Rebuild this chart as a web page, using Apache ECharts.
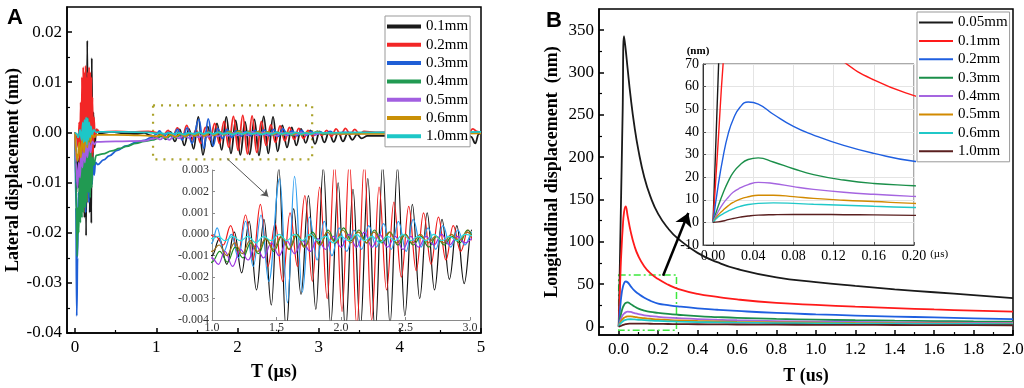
<!DOCTYPE html>
<html lang="en">
<head>
<meta charset="UTF-8">
<title>Lateral and longitudinal displacement</title>
<script src="https://cdn.jsdelivr.net/npm/echarts@6/dist/echarts.min.js"></script>
<style>
  html, body { margin: 0; padding: 0; background: #fff; }
  #chart { width: 1024px; height: 388px; }
</style>
</head>
<body>
<div id="chart"></div>
<script>
// ---- panel A: lateral displacement (nm) vs T (us), [t, value] pairs
const namesA = ['0.1mm', '0.2mm', '0.3mm', '0.4mm', '0.5mm', '0.6mm', '1.0mm'];

const lat01 = [
  [0,0],[0.01,-0.004],[0.017,-0.012],[0.03,-0.005],[0.045,-0.011],[0.06,-0.003],[0.075,-0.013],[0.085,0.002],
  [0.095,-0.015],[0.105,0.006],[0.115,-0.017],[0.125,0.01],[0.135,-0.0206],[0.15,0.0183],[0.16,-0.012],[0.17,0.009],
  [0.18,-0.016],[0.19,0.011],[0.2,-0.0181],[0.205,0.0148],[0.215,-0.008],[0.225,0.004],[0.24,-0.003],[0.26,0.0006],
  [0.3,-0.0002],[0.45,0.0001],[0.6,-0.0002],[0.75,-0.0003],[0.85,-0.0001],[0.93,-0.0006],
  [1.0,-0.001],[1.058,-0.0002],[1.115,-0.0014],[1.173,0.0001],[1.23,-0.0018],[1.288,0.0006],[1.345,-0.0026],
  [1.403,0.0007],[1.46,-0.0033],[1.518,0.0031],[1.575,-0.0045],[1.633,0.0012],[1.69,-0.0028],[1.748,0.0018],
  [1.805,-0.0035],[1.863,0.0031],[1.92,-0.0042],[1.978,0.0024],[2.035,-0.0045],[2.093,0.0021],[2.15,-0.0044],
  [2.208,0.0026],[2.265,-0.0046],[2.323,0.0032],[2.38,-0.0042],[2.438,0.0031],[2.495,-0.0038],[2.553,0.0014],
  [2.61,-0.003],[2.668,0.001],[2.725,-0.0026],[2.783,0.0007],[2.84,-0.0021],[2.898,0.0004],[2.955,-0.0023],
  [3.013,0.0002],[3.07,-0.002],[3.128,0.0001],[3.185,-0.0019],[3.243,0],[3.3,-0.0018],[3.358,-0.0002],
  [3.415,-0.0015],[3.473,-0.0004],[3.53,-0.0012],[3.6,-0.0007],[3.8,-0.0007],[4.3,-0.0006],[4.84,-0.0005],
  [4.88,-0.0009],[4.93,-0.0022],[4.97,-0.0004],[5.0,0.0001]
];
const lat02 = [
  [0,0],[0.02,-0.001],[0.04,-0.003],[0.05,0.002],[0.06,-0.006],[0.068,0.006],[0.076,-0.01],[0.084,0.011],
  [0.092,-0.012],[0.1,0.013],[0.108,-0.016],[0.115,0.012],[0.122,-0.015],[0.13,0.0133],[0.137,-0.013],[0.144,0.011],
  [0.151,-0.014],[0.158,0.012],[0.165,-0.011],[0.172,0.013],[0.179,-0.012],[0.186,0.012],[0.193,-0.01],[0.2,0.011],
  [0.207,-0.007],[0.214,0.007],[0.222,-0.004],[0.232,0.003],[0.245,-0.001],[0.27,0.0006],[0.3,0.0001],[0.5,0.0002],
  [0.7,0.0001],[0.9,0.0002],
  [1.03,-0.0001],[1.088,-0.0005],[1.145,0.0004],[1.203,-0.0009],[1.26,0.0009],[1.318,-0.0012],[1.375,0.0014],
  [1.433,-0.0015],[1.49,0.0005],[1.548,-0.0022],[1.605,0.001],[1.663,-0.0015],[1.72,0.0018],[1.778,-0.0022],
  [1.835,0.0022],[1.893,-0.003],[1.95,0.0032],[2.008,-0.0036],[2.065,0.0034],[2.123,-0.0043],[2.18,0.0033],
  [2.238,-0.004],[2.295,0.0022],[2.353,-0.0026],[2.41,0.0015],[2.468,-0.002],[2.525,0.0013],[2.583,-0.0017],
  [2.64,0.001],[2.698,-0.0014],[2.755,0.0008],[2.813,-0.0012],[2.87,0.0004],[2.928,-0.0008],[2.985,0.0002],
  [3.043,-0.0006],[3.1,0.0004],[3.158,-0.0008],[3.215,0.0007],[3.273,-0.0005],[3.33,0.0008],[3.388,-0.0004],
  [3.445,0.0006],[3.503,-0.0003],[3.56,0.0002],[3.7,0],[4.2,0.0001],[4.85,0],[4.9,0.0007],[4.95,0.0002],[5.0,-0.0001]
];
const lat03 = [
  [0,0],[0.01,-0.015],[0.02,-0.0366],[0.03,-0.025],[0.04,-0.012],[0.05,-0.016],[0.06,-0.009],[0.07,-0.013],
  [0.08,-0.006],[0.09,-0.014],[0.1,-0.004],[0.11,-0.015],[0.12,-0.005],[0.13,-0.016],[0.14,-0.004],[0.15,-0.012],
  [0.16,-0.006],[0.17,-0.014],[0.18,-0.005],[0.19,-0.011],[0.2,-0.007],[0.21,-0.0103],[0.22,-0.0055],[0.235,-0.0085],
  [0.25,-0.006],[0.28,-0.0064],[0.35,-0.0055],[0.42,-0.0047],[0.52,-0.0036],[0.63,-0.0027],[0.75,-0.002],
  [0.85,-0.0016],[0.93,-0.0011],
  [1.0,-0.0004],[1.04,0.0003],[1.09,-0.0008],[1.15,0],[1.205,-0.0011],[1.26,0.0006],[1.32,-0.0015],[1.38,0.0009],
  [1.44,-0.0022],[1.525,0.0026],[1.585,-0.0032],[1.64,0.0027],[1.7,-0.0027],[1.755,0.0008],[1.815,-0.0012],
  [1.87,0.0006],[1.93,-0.001],[1.985,0.0003],[2.045,-0.0008],[2.1,0.0002],[2.16,-0.0007],[2.215,0.0004],
  [2.275,-0.0006],[2.33,0.0005],[2.39,-0.0007],[2.445,0.0006],[2.505,-0.0008],[2.56,0.0007],[2.62,-0.0006],
  [2.675,0.0003],[2.735,-0.0007],[2.79,0.0004],[2.85,-0.0006],[2.905,0.0002],[2.96,-0.0005],
  [3.02,0.0001],[3.08,-0.0004],[3.14,0.0002],[3.2,-0.0003],[3.3,0],[3.5,-0.0001],[4.2,0],[4.9,-0.0001],[5.0,0]
];
const lat04 = [
  [0,0],[0.01,-0.01],[0.025,-0.0247],[0.035,-0.015],[0.045,-0.02],[0.055,-0.008],[0.065,-0.018],[0.075,-0.005],
  [0.085,-0.017],[0.095,-0.004],[0.105,-0.016],[0.115,-0.002],[0.125,-0.015],[0.135,0.001],[0.145,-0.014],
  [0.155,0.003],[0.165,-0.012],[0.175,-0.001],[0.185,-0.013],[0.195,-0.004],[0.205,-0.011],[0.215,-0.005],
  [0.23,-0.0065],[0.26,-0.0046],[0.34,-0.0043],[0.45,-0.0037],[0.55,-0.0032],[0.63,-0.0028],[0.75,-0.0022],
  [0.85,-0.0018],[0.96,-0.0015],
  [1.0,-0.0013],[1.06,-0.0008],[1.12,-0.0013],[1.18,-0.0006],[1.24,-0.0011],[1.3,-0.0004],[1.36,-0.0009],
  [1.42,-0.0002],[1.48,-0.0008],[1.54,-0.0001],[1.6,-0.0007],[1.66,0],[1.72,-0.0006],[1.78,0.0001],[1.84,-0.0005],
  [1.9,0.0002],[1.96,-0.0004],[2.02,0.0003],[2.08,-0.0003],[2.14,0.0002],[2.2,-0.0004],[2.26,0.0002],[2.32,-0.0004],
  [2.38,0.0001],[2.44,-0.0005],[2.5,0],[2.56,-0.0005],[2.62,-0.0001],[2.68,-0.0006],[2.74,-0.0001],[2.8,-0.0005],
  [2.86,-0.0001],[2.92,-0.0004],[2.98,0.0002],
  [3.05,-0.0003],[3.15,-0.0001],[3.3,-0.0002],[3.6,-0.0001],[4.3,-0.0001],[5.0,0]
];
const lat05 = [
  [0,0],[0.01,-0.006],[0.03,-0.011],[0.045,-0.006],[0.06,-0.009],[0.075,-0.004],[0.09,-0.007],[0.105,-0.003],
  [0.12,-0.006],[0.135,-0.002],[0.15,-0.005],[0.17,-0.002],[0.19,-0.004],[0.21,-0.0018],[0.24,-0.0024],
  [0.26,-0.0019],[0.5,-0.0018],[0.86,-0.0017],[0.95,-0.0013],
  [1.0,-0.0011],[1.05,-0.0014],[1.1,-0.0008],[1.16,-0.0015],[1.22,-0.0007],[1.28,-0.0012],[1.34,-0.0005],
  [1.4,-0.0011],[1.46,-0.0004],[1.52,-0.001],[1.58,-0.0003],[1.64,-0.0009],[1.7,-0.0003],[1.76,-0.0008],
  [1.82,-0.0002],[1.88,-0.0007],[1.94,-0.0001],[2.0,-0.0006],[2.06,0],[2.12,-0.0006],[2.18,0.0001],[2.24,-0.0006],
  [2.3,0],[2.36,-0.0006],[2.42,-0.0001],[2.48,-0.0007],[2.54,-0.0001],[2.6,-0.0006],[2.66,-0.0001],[2.72,-0.0005],
  [2.78,0],[2.84,-0.0005],[2.9,-0.0001],[2.96,-0.0004],
  [3.05,-0.0001],[3.2,-0.0003],[3.5,-0.0002],[4.3,-0.0002],[5.0,-0.0001]
];
const lat06 = [
  [0,0],[0.01,-0.004],[0.03,-0.0057],[0.05,-0.002],[0.07,-0.005],[0.09,-0.001],[0.11,-0.004],[0.13,0],
  [0.15,-0.003],[0.17,0.001],[0.19,-0.002],[0.21,0],[0.23,-0.001],[0.26,-0.0005],[0.5,-0.0005],[0.8,-0.0006],
  [0.95,-0.0007],
  [1.0,-0.0008],[1.055,-0.0005],[1.115,-0.001],[1.175,-0.0004],[1.235,-0.0009],[1.295,-0.0003],[1.355,-0.0008],
  [1.415,-0.0002],[1.475,-0.0007],[1.535,-0.0001],[1.595,-0.0007],[1.655,0],[1.715,-0.0006],[1.775,0],
  [1.835,-0.0005],[1.895,0.0001],[1.955,-0.0004],[2.015,0.0002],[2.075,-0.0004],[2.135,0.0001],[2.195,-0.0004],
  [2.255,0.0001],[2.315,-0.0003],[2.375,0.0001],[2.435,-0.0004],[2.495,0],[2.555,-0.0004],[2.615,0],
  [2.675,-0.0004],[2.735,-0.0001],[2.795,-0.0004],[2.855,0],[2.915,-0.0003],[2.975,0.0001],
  [3.05,-0.0002],[3.3,-0.0003],[4.0,-0.0003],[5.0,-0.0002]
];
const lat10 = [
  [0,0],[0.02,-0.0003],[0.04,-0.001],[0.06,0.0005],[0.08,-0.0015],[0.095,0.002],[0.105,-0.002],[0.115,0.0025],
  [0.125,-0.0018],[0.135,0.003],[0.145,-0.0025],[0.155,0.0028],[0.165,-0.0015],[0.175,0.002],[0.185,-0.001],
  [0.195,0.0012],[0.21,-0.0004],[0.23,0.0005],[0.26,0],[0.3,0.0001],[0.6,0.0001],[0.9,0],
  [1.0,-0.0002],[1.05,-0.0001],[1.1,-0.0003],[1.16,-0.0001],[1.22,-0.0003],[1.28,-0.0001],[1.34,-0.0004],
  [1.4,-0.0001],[1.46,-0.0003],[1.52,0],[1.58,-0.0003],[1.64,0],[1.7,-0.0003],[1.76,0],[1.82,-0.0003],
  [1.88,-0.0001],[1.94,-0.0004],[2.0,-0.0001],[2.06,-0.0003],[2.12,0],[2.18,-0.0003],[2.24,-0.0001],[2.3,-0.0004],
  [2.36,-0.0001],[2.42,-0.0003],[2.48,0],[2.54,-0.0003],[2.6,-0.0001],[2.66,-0.0003],[2.72,0],[2.78,-0.0003],
  [2.84,-0.0001],[2.9,-0.0003],[2.96,0],
  [3.05,-0.0001],[3.5,0],[4.5,0],[5.0,0.0001]
];
const latA = [lat01, lat02, lat03, lat04, lat05, lat06, lat10];

// tick values, panel A
const ticksAx = [0, 1, 2, 3, 4, 5];
const minorAx = [0.5, 1.5, 2.5, 3.5, 4.5];
const ticksAy = [-0.04, -0.03, -0.02, -0.01, 0, 0.01, 0.02];
const minorAy = [-0.035, -0.025, -0.015, -0.005, 0.005, 0.015];

// ---- panel B: longitudinal displacement (nm) vs T (us)
const namesB = ['0.05mm', '0.1mm', '0.2mm', '0.3mm', '0.4mm', '0.5mm', '0.6mm', '1.0mm'];
const tB = [0, 0.005, 0.01, 0.015, 0.02, 0.027, 0.035, 0.045, 0.06, 0.08, 0.1, 0.13, 0.16, 0.2, 0.25, 0.3,
            0.4, 0.5, 0.6, 0.8, 1.0, 1.2, 1.4, 1.6, 1.8, 2.0];
const lon005 = [0, 63, 127, 190, 254, 343, 328, 305, 272, 236, 208, 176, 154, 133, 116, 104, 87, 76, 68, 58, 52.5, 48, 44, 40.5, 37, 33.5];
const lon01  = [0, 35, 70, 95, 115, 135, 142, 131, 113, 95, 83, 71, 63, 56, 49.5, 44.5, 38.5, 35, 32, 28, 25.5, 23.5, 21.8, 20.2, 18.8, 17.5];
const lon02  = [0, 16, 29, 39, 45.5, 51, 53.2, 52.3, 47.8, 42.4, 38.6, 34, 30.5, 27, 25.3, 23.8, 21.5, 19.8, 18.4, 16.1, 14.4, 13, 11.8, 10.7, 9.7, 8.7];
const lon03  = [0, 7, 13, 18, 22, 25.5, 27.8, 28.5, 26.7, 23.7, 21.1, 18.7, 17.2, 16.2, 14.9, 13.9, 12.3, 11.2, 10.3, 9, 8.1, 7.4, 6.9, 6.5, 6.1, 5.8];
const lon04  = [0, 4.7, 8.3, 11, 13.3, 15.2, 16.7, 17.7, 17.2, 15.8, 14.6, 13.3, 12.4, 11.5, 10.6, 9.9, 8.8, 8, 7.4, 6.5, 5.9, 5.4, 5, 4.7, 4.4, 4.2];
const lon05  = [0, 3.2, 5.4, 7.3, 8.8, 10.3, 11.3, 12, 12, 11.4, 10.6, 9.8, 9.2, 8.4, 7.8, 7.3, 6.6, 6.1, 5.6, 5, 4.6, 4.2, 3.9, 3.7, 3.5, 3.3];
const lon06  = [0, 2.4, 3.8, 5, 6, 7.1, 7.9, 8.4, 8.6, 8.4, 8, 7.6, 7.1, 6.6, 6.2, 5.8, 5.3, 4.9, 4.6, 4.1, 3.8, 3.5, 3.3, 3.1, 3, 2.8];
const lon10  = [0, 0.2, 0.6, 1.2, 1.7, 2.3, 2.8, 3.2, 3.4, 3.5, 3.5, 3.4, 3.3, 3.1, 3, 2.9, 2.7, 2.5, 2.4, 2.2, 2, 1.9, 1.8, 1.7, 1.6, 1.5];
const lonB = [lon005, lon01, lon02, lon03, lon04, lon05, lon06, lon10];

// tick values, panel B
const ticksBx = [0, 0.2, 0.4, 0.6, 0.8, 1.0, 1.2, 1.4, 1.6, 1.8, 2.0];
const minorBx = [0.1, 0.3, 0.5, 0.7, 0.9, 1.1, 1.3, 1.5, 1.7, 1.9];
const ticksBy = [0, 50, 100, 150, 200, 250, 300, 350];
const minorBy = [25, 75, 125, 175, 225, 275, 325];
const ticksInsetBx = [0, 0.04, 0.08, 0.12, 0.16, 0.2];

// ---- styles
const colorsA = ['#1a1a1a', '#f22626', '#1f5fd6', '#219a52', '#a25fe0', '#c99006', '#1dc7c7'];
const colorsAInset = ['#111111', '#f01818', '#2a9cf0', '#1f8a1f', '#9a30e0', '#a07018', '#30dede'];
const colorsB = ['#1a1a1a', '#ff1a1a', '#1f5fe0', '#1b8f4a', '#a565e0', '#d28a00', '#20c8c8', '#5a1f1f'];
const SERIF = 'Liberation Serif';

const chart = echarts.init(document.getElementById('chart'));

function fmt(d) {
  return v => (Math.abs(v) < 1e-12 ? 0 : v).toFixed(d);
}

function mainX(grid, min, max, ticks, decimals, name, gap) {
  return {
    type: 'value', gridIndex: grid, position: 'bottom', min: min, max: max,
    axisLine: { onZero: false, lineStyle: { color: '#000', width: 1.5 } },
    axisTick: { inside: true, length: 5, customValues: ticks, lineStyle: { color: '#000', width: 1.5 } },
    axisLabel: { customValues: ticks, formatter: fmt(decimals), fontFamily: SERIF, fontSize: 17, color: '#000', margin: 6 },
    splitLine: { show: false },
    name: name, nameLocation: 'middle', nameGap: gap,
    nameTextStyle: { fontFamily: SERIF, fontWeight: 'bold', fontSize: 18, color: '#000' }
  };
}
function mainY(grid, min, max, ticks, decimals, name, gap) {
  return {
    type: 'value', gridIndex: grid, position: 'left', min: min, max: max,
    axisLine: { onZero: false, lineStyle: { color: '#000', width: 1.5 } },
    axisTick: { inside: true, length: 5, customValues: ticks, lineStyle: { color: '#000', width: 1.5 } },
    axisLabel: { customValues: ticks, formatter: fmt(decimals), fontFamily: SERIF, fontSize: 17, color: '#000', margin: 5 },
    splitLine: { show: false },
    name: name, nameLocation: 'middle', nameGap: gap, nameRotate: 90,
    nameTextStyle: { fontFamily: SERIF, fontWeight: 'bold', fontSize: 18, color: '#000' }
  };
}
function minorAxis(grid, pos, min, max, ticks) {
  return {
    type: 'value', gridIndex: grid, position: pos, min: min, max: max,
    axisLine: { show: false, onZero: false },
    axisTick: { inside: true, length: 3, customValues: ticks, lineStyle: { color: '#000', width: 1.2 } },
    axisLabel: { show: false },
    splitLine: { show: false }
  };
}

const series = [];
namesA.forEach((n, i) => {
  series.push({
    name: n, type: 'line', xAxisIndex: 0, yAxisIndex: 0, data: latA[i],
    symbol: 'none', smooth: 0.4, smoothMonotone: 'x', clip: true,
    lineStyle: { width: 1.8, color: colorsA[i] }, itemStyle: { color: colorsA[i] }
  });
});
// zoom box and arrow pointing to the inset (panel A)
series[0].markArea = {
  silent: true,
  itemStyle: { color: 'rgba(0,0,0,0)', borderColor: '#aaa22a', borderWidth: 2.2, borderType: [2, 6] },
  data: [[{ coord: [0.96, 0.0054] }, { coord: [2.92, -0.0054] }]]
};
series[0].markLine = {
  silent: true, symbol: ['none', 'arrow'], symbolSize: 7, label: { show: false },
  lineStyle: { color: '#555', width: 1, type: 'solid' },
  data: [[{ coord: [1.87, -0.0052] }, { coord: [2.38, -0.0128] }]]
};
namesA.forEach((n, i) => {
  series.push({
    name: n, type: 'line', xAxisIndex: 2, yAxisIndex: 2, data: latA[i],
    symbol: 'none', smooth: 0.4, smoothMonotone: 'x', clip: true,
    lineStyle: { width: 1.2, color: colorsAInset[i] }, itemStyle: { color: colorsAInset[i] }
  });
});

const bFirst = series.length;
namesB.forEach((n, i) => {
  const pts = tB.map((t, j) => [t, lonB[i][j]]);
  series.push({
    name: 'B ' + n, type: 'line', xAxisIndex: 3, yAxisIndex: 3, data: pts,
    symbol: 'none', smooth: 0.5, clip: true,
    lineStyle: { width: 1.8, color: colorsB[i] }, itemStyle: { color: colorsB[i] }
  });
});
series[bFirst].markArea = {
  silent: true,
  itemStyle: { color: 'rgba(0,0,0,0)', borderColor: '#3ee83e', borderWidth: 1.5, borderType: [7, 3, 2, 3] },
  data: [[{ coord: [0, 61] }, { coord: [0.293, -4.5] }]]
};
series[bFirst].markLine = {
  silent: true, symbol: ['none', 'arrow'], symbolSize: 13, label: { show: false },
  lineStyle: { color: '#000', width: 2.5, type: 'solid' },
  data: [[{ coord: [0.225, 60] }, { coord: [0.353, 134] }]]
};
namesB.forEach((n, i) => {
  const pts = tB.map((t, j) => [t, lonB[i][j]]);
  series.push({
    name: 'B ' + n, type: 'line', xAxisIndex: 5, yAxisIndex: 5, data: pts,
    symbol: 'none', smooth: 0.5, clip: true,
    lineStyle: { width: 1.4, color: colorsB[i] }, itemStyle: { color: colorsB[i] }
  });
});

const legendText = { fontFamily: SERIF, fontSize: 15, color: '#000' };

chart.setOption({
  animation: false,
  backgroundColor: '#fff',
  grid: [
    { left: 67, top: 7, width: 414, height: 326, show: true, borderColor: '#000', borderWidth: 1.5, backgroundColor: 'transparent', containLabel: false, outerBoundsMode: 'none' },
    { left: 212, top: 170, width: 258, height: 150, show: false, containLabel: false, outerBoundsMode: 'none' },
    { left: 599, top: 9, width: 414, height: 326, show: true, borderColor: '#000', borderWidth: 1.5, backgroundColor: 'transparent', containLabel: false, outerBoundsMode: 'none' },
    { left: 703, top: 64, width: 211, height: 181, show: true, borderColor: '#555', borderWidth: 1, backgroundColor: '#fff', containLabel: false, outerBoundsMode: 'none' }
  ],
  xAxis: [
    mainX(0, -0.1, 5, ticksAx, 0, 'T (µs)', 30),
    minorAxis(0, 'bottom', -0.1, 5, minorAx),
    {
      type: 'value', gridIndex: 1, position: 'bottom', min: 1, max: 3, interval: 0.5,
      axisLine: { onZero: false, lineStyle: { color: '#8a8a8a', width: 1 } },
      axisTick: { inside: true, length: 3, lineStyle: { color: '#8a8a8a' } },
      axisLabel: { formatter: fmt(1), fontFamily: SERIF, fontSize: 12, color: '#333', margin: 2 },
      splitLine: { show: false }
    },
    mainX(2, -0.1, 2, ticksBx, 1, 'T (us)', 32),
    minorAxis(2, 'bottom', -0.1, 2, minorBx),
    {
      type: 'value', gridIndex: 3, position: 'bottom', min: -0.01, max: 0.2,
      axisLine: { onZero: false, lineStyle: { color: '#333', width: 1 } },
      axisTick: { inside: true, length: 3, customValues: ticksInsetBx, lineStyle: { color: '#555' } },
      axisLabel: { customValues: ticksInsetBx, formatter: fmt(2), fontFamily: SERIF, fontSize: 14, color: '#000', margin: 4 },
      splitLine: { show: true, lineStyle: { color: '#e4e4e4', width: 1 } },
      name: '(µs)', nameLocation: 'end', nameGap: 12,
      nameTextStyle: { fontFamily: SERIF, fontSize: 11, color: '#000', verticalAlign: 'top', padding: [4, 0, 0, 0] }
    }
  ],
  yAxis: [
    mainY(0, -0.04, 0.025, ticksAy, 2, 'Lateral displacement (nm)', 44),
    minorAxis(0, 'left', -0.04, 0.025, minorAy),
    {
      type: 'value', gridIndex: 1, position: 'left', min: -0.004, max: 0.003, interval: 0.001,
      axisLine: { onZero: false, lineStyle: { color: '#8a8a8a', width: 1 } },
      axisTick: { inside: true, length: 3, lineStyle: { color: '#8a8a8a' } },
      axisLabel: { formatter: fmt(3), fontFamily: SERIF, fontSize: 12, color: '#333', margin: 3 },
      splitLine: { show: false }
    },
    mainY(2, -10, 375, ticksBy, 0, 'Longitudinal displacement  (nm)', 38),
    minorAxis(2, 'left', -10, 375, minorBy),
    {
      type: 'value', gridIndex: 3, position: 'left', min: -10, max: 70, interval: 10,
      axisLine: { onZero: false, lineStyle: { color: '#333', width: 1 } },
      axisTick: { inside: true, length: 3, lineStyle: { color: '#555' } },
      axisLabel: { formatter: fmt(0), fontFamily: SERIF, fontSize: 14, color: '#000', margin: 4 },
      splitLine: { show: true, lineStyle: { color: '#e4e4e4', width: 1 } },
      name: '(nm)', nameLocation: 'end', nameGap: 6,
      nameTextStyle: { fontFamily: SERIF, fontSize: 11, fontWeight: 'bold', color: '#000', padding: [0, 10, 0, 0] }
    }
  ],
  legend: [
    {
      data: namesA, orient: 'vertical', left: 385, top: 16,
      icon: 'rect', itemWidth: 34, itemHeight: 4, itemGap: 3.3,
      padding: [3, 2, 3, 2], backgroundColor: '#fff', borderColor: '#999', borderWidth: 1,
      textStyle: legendText, selectedMode: false
    },
    {
      data: namesB.map(n => 'B ' + n), orient: 'vertical', left: 917, top: 12,
      icon: 'rect', itemWidth: 34, itemHeight: 2, itemGap: 3.4,
      padding: [3, 2, 3, 2], backgroundColor: '#fff', borderColor: '#999', borderWidth: 1,
      formatter: n => n.slice(2),
      textStyle: legendText, selectedMode: false
    }
  ],
  graphic: [
    { type: 'text', left: 7, top: 7, style: { text: 'A', font: 'bold 22px "Liberation Sans"', fill: '#000' } },
    { type: 'text', left: 546, top: 10, style: { text: 'B', font: 'bold 22px "Liberation Sans"', fill: '#000' } }
  ],
  series: series
});
</script>
</body>
</html>
